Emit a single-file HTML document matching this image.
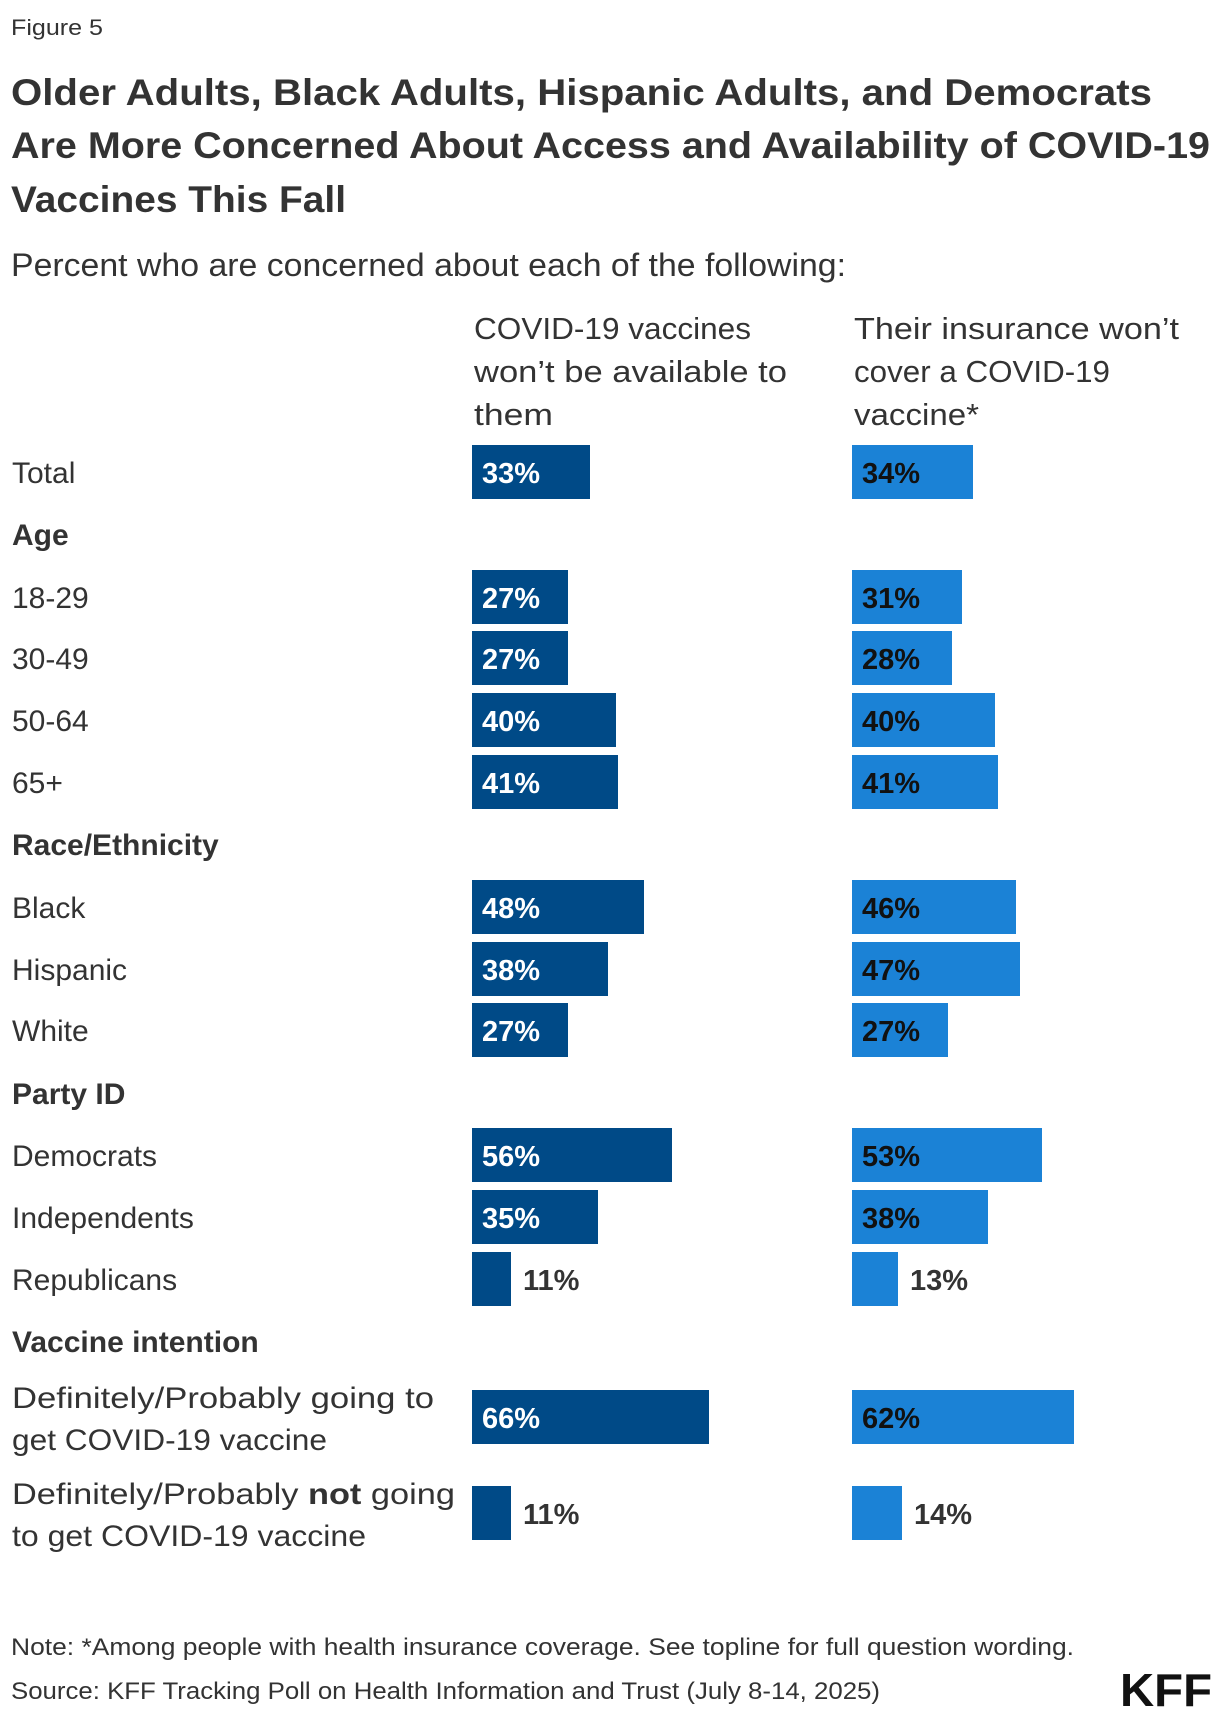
<!DOCTYPE html>
<html><head><meta charset="utf-8"><style>
html,body{margin:0;padding:0;background:#fff;}
svg{display:block;}
text{font-family:"Liberation Sans",sans-serif;fill:#333;}
.t{font-weight:bold;font-size:37px;}
.l{font-size:30px;}
.h{font-weight:bold;font-size:30px;}
.w{fill:#fff;font-weight:bold;font-size:29px;}
.b{fill:#111;font-weight:bold;font-size:29px;}
.o{fill:#333;font-weight:bold;font-size:29px;}
</style></head><body>
<svg width="1220" height="1716" viewBox="0 0 1220 1716" xmlns="http://www.w3.org/2000/svg">
<text x="11" y="35" style="font-size:22px" textLength="92" lengthAdjust="spacingAndGlyphs">Figure 5</text>
<text class="t" x="11" y="105" textLength="1141" lengthAdjust="spacingAndGlyphs">Older Adults, Black Adults, Hispanic Adults, and Democrats</text>
<text class="t" x="11" y="158" textLength="1199" lengthAdjust="spacingAndGlyphs">Are More Concerned About Access and Availability of COVID-19</text>
<text class="t" x="11" y="212" textLength="335" lengthAdjust="spacingAndGlyphs">Vaccines This Fall</text>
<text x="11" y="276" style="font-size:32px" textLength="835" lengthAdjust="spacingAndGlyphs">Percent who are concerned about each of the following:</text>
<g style="font-size:31px">
<text x="474" y="339" textLength="277" lengthAdjust="spacingAndGlyphs">COVID-19 vaccines</text>
<text x="474" y="382" textLength="313" lengthAdjust="spacingAndGlyphs">won’t be available to</text>
<text x="474" y="425" textLength="79" lengthAdjust="spacingAndGlyphs">them</text>
<text x="854" y="339" textLength="325" lengthAdjust="spacingAndGlyphs">Their insurance won’t</text>
<text x="854" y="382" textLength="256" lengthAdjust="spacingAndGlyphs">cover a COVID-19</text>
<text x="854" y="425" textLength="125" lengthAdjust="spacingAndGlyphs">vaccine*</text>
</g>
<g fill="#004a87">
<rect x="472" y="445" width="118" height="54"/>
<rect x="472" y="570" width="96" height="54"/>
<rect x="472" y="631" width="96" height="54"/>
<rect x="472" y="693" width="144" height="54"/>
<rect x="472" y="755" width="146" height="54"/>
<rect x="472" y="880" width="172" height="54"/>
<rect x="472" y="942" width="136" height="54"/>
<rect x="472" y="1003" width="96" height="54"/>
<rect x="472" y="1128" width="200" height="54"/>
<rect x="472" y="1190" width="126" height="54"/>
<rect x="472" y="1252" width="39" height="54"/>
<rect x="472" y="1390" width="237" height="54"/>
<rect x="472" y="1486" width="39" height="54"/>
</g>
<g fill="#1b82d6">
<rect x="852" y="445" width="121" height="54"/>
<rect x="852" y="570" width="110" height="54"/>
<rect x="852" y="631" width="100" height="54"/>
<rect x="852" y="693" width="143" height="54"/>
<rect x="852" y="755" width="146" height="54"/>
<rect x="852" y="880" width="164" height="54"/>
<rect x="852" y="942" width="168" height="54"/>
<rect x="852" y="1003" width="96" height="54"/>
<rect x="852" y="1128" width="190" height="54"/>
<rect x="852" y="1190" width="136" height="54"/>
<rect x="852" y="1252" width="46" height="54"/>
<rect x="852" y="1390" width="222" height="54"/>
<rect x="852" y="1486" width="50" height="54"/>
</g>
<g>
<text class="l" x="12" y="483">Total</text>
<text class="h" x="12" y="545">Age</text>
<text class="l" x="12" y="608">18-29</text>
<text class="l" x="12" y="669">30-49</text>
<text class="l" x="12" y="731">50-64</text>
<text class="l" x="12" y="793">65+</text>
<text class="h" x="12" y="855">Race/Ethnicity</text>
<text class="l" x="12" y="918">Black</text>
<text class="l" x="12" y="980">Hispanic</text>
<text class="l" x="12" y="1041">White</text>
<text class="h" x="12" y="1104">Party ID</text>
<text class="l" x="12" y="1166">Democrats</text>
<text class="l" x="12" y="1228">Independents</text>
<text class="l" x="12" y="1290">Republicans</text>
<text class="h" x="12" y="1352">Vaccine intention</text>
<text class="l" x="12" y="1408" textLength="422" lengthAdjust="spacingAndGlyphs">Definitely/Probably going to</text>
<text class="l" x="12" y="1450" textLength="315" lengthAdjust="spacingAndGlyphs">get COVID-19 vaccine</text>
<text class="l" x="12" y="1504" textLength="443" lengthAdjust="spacingAndGlyphs">Definitely/Probably <tspan font-weight="bold">not</tspan> going</text>
<text class="l" x="12" y="1546" textLength="354" lengthAdjust="spacingAndGlyphs">to get COVID-19 vaccine</text>
</g>
<g>
<text class="w" x="482" y="483">33%</text><text class="b" x="862" y="483">34%</text>
<text class="w" x="482" y="608">27%</text><text class="b" x="862" y="608">31%</text>
<text class="w" x="482" y="669">27%</text><text class="b" x="862" y="669">28%</text>
<text class="w" x="482" y="731">40%</text><text class="b" x="862" y="731">40%</text>
<text class="w" x="482" y="793">41%</text><text class="b" x="862" y="793">41%</text>
<text class="w" x="482" y="918">48%</text><text class="b" x="862" y="918">46%</text>
<text class="w" x="482" y="980">38%</text><text class="b" x="862" y="980">47%</text>
<text class="w" x="482" y="1041">27%</text><text class="b" x="862" y="1041">27%</text>
<text class="w" x="482" y="1166">56%</text><text class="b" x="862" y="1166">53%</text>
<text class="w" x="482" y="1228">35%</text><text class="b" x="862" y="1228">38%</text>
<text class="o" x="523" y="1290">11%</text><text class="o" x="910" y="1290">13%</text>
<text class="w" x="482" y="1428">66%</text><text class="b" x="862" y="1428">62%</text>
<text class="o" x="523" y="1524">11%</text><text class="o" x="914" y="1524">14%</text>
</g>
<text x="11" y="1655" style="font-size:24px" textLength="1063" lengthAdjust="spacingAndGlyphs">Note: *Among people with health insurance coverage. See topline for full question wording.</text>
<text x="11" y="1699" style="font-size:24px" textLength="869" lengthAdjust="spacingAndGlyphs">Source: KFF Tracking Poll on Health Information and Trust (July 8-14, 2025)</text>
<text x="1120" y="1706" style="font-size:46px;font-weight:bold;fill:#111" textLength="92" lengthAdjust="spacingAndGlyphs">KFF</text>
</svg>
</body></html>
